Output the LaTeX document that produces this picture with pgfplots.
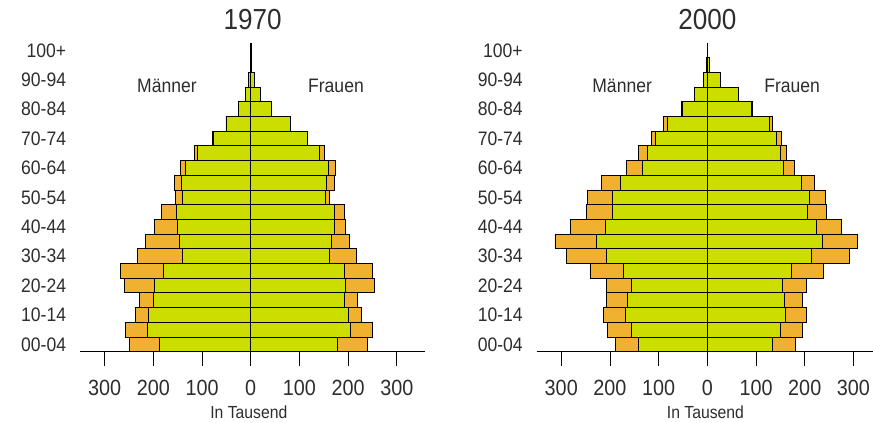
\documentclass[border=0pt]{standalone}
\usepackage{pgfplots}
\pgfplotsset{compat=1.18}
\usepackage{pgfplotstable}
\usepackage{fontspec}
\setmainfont[FakeStretch=0.9]{Liberation Sans}
\definecolor{bgreen}{RGB}{204,222,0}
\definecolor{borange}{RGB}{240,176,48}
\definecolor{txt}{RGB}{45,45,45}

% idx, men green, men total, women green, women total (in thousands)
\pgfplotstableread{
i  mg   mt   wg   wt
0  188  249  178  240
1  212  258  204  250
2  210  236  201  228
3  200  229  192  220
4  197  260  195  253
5  179  268  192  250
6  140  232  162  216
7  147  216  165  203
8  151  197  172  195
9  153  183  172  192
10 140  154  153  162
11 142  157  156  171
12 134  145  160  173
13 110  116  141  151
14 77   78   116  117
15 51   51   81   81
16 25   25   43   43
17 10   10   19   19
18 4    4    7    7
19 1    1    1.5  1.5
20 0.5  0.5  0.5  0.5
}\dataA

\pgfplotstableread{
i  mg   mt   wg   wt
0  142  188  134  180
1  155  205  151  195
2  168  214  160  203
3  164  208  158  196
4  155  207  155  203
5  173  241  172  238
6  208  290  213  292
7  227  313  236  309
8  210  281  223  275
9  195  248  206  245
10 195  246  209  242
11 178  217  194  219
12 134  166  156  179
13 123  142  149  163
14 106  114  142  153
15 82   90   127  134
16 51   54   91   92
17 27   27   64   64
18 8    8    26   26
19 1.5  1.5  5    5
20 0.5  0.5  1    1
}\dataB

\pgfplotsset{
  pyr/.style={
    x=0.487bp, y=14.7bp,
    xmin=-350, xmax=350, ymin=-0.5, ymax=20.5,
    anchor=south west,
    axis x line*=bottom, axis y line*=left,
    y axis line style={draw=none},
    x axis line style={line width=0.9bp, black, shorten >=-4bp},
    xtick={-300,-200,-100,0,100,200,300},
    xticklabels={300,200,100,0,100,200,300},
    ytick={0,2,...,20},
    yticklabels={00-04,10-14,20-24,30-34,40-44,50-54,60-64,70-74,80-84,90-94,100+},
    tick align=outside, major tick length=14bp,
    xtick style={line width=0.9bp, black},
    ytick style={draw=none},
    /pgf/number format/assume math mode=true,
    xticklabel style={font=\fontsize{22bp}{26bp}\selectfont, text=txt, yshift=-11bp},
    yticklabel style={font=\fontsize{19.5bp}{23bp}\selectfont, text=txt, inner sep=0pt, xshift=0bp},
    xbar, bar width=1, bar shift=0pt,
    clip=false,
    every axis plot/.append style={draw=black, line width=0.8bp},
  }
}

\begin{document}
\begin{tikzpicture}
\useasboundingbox (0,0) rectangle (873bp,423bp);

\begin{axis}[pyr, at={(80.3bp,71.3bp)}]
  \addplot[fill=borange] table[x expr=-\thisrow{mt}, y=i] {\dataA};
  \addplot[fill=bgreen]  table[x expr=-\thisrow{mg}, y=i] {\dataA};
  \addplot[fill=borange] table[x=wt, y=i] {\dataA};
  \addplot[fill=bgreen]  table[x=wg, y=i] {\dataA};
  \addplot[sharp plot, black, line width=0.9bp, mark=none] coordinates {(0,-0.5) (0,20.5)};
  \node[text=txt, font=\fontsize{29bp}{33bp}\selectfont] at (axis cs:4,22.1) {1970};
  \node[text=txt, font=\fontsize{19.5bp}{23bp}\selectfont] at (axis cs:-172,17.57) {Männer};
  \node[text=txt, font=\fontsize{19.5bp}{23bp}\selectfont] at (axis cs:175,17.57) {Frauen};
  \node[text=txt, font=\fontsize{17.5bp}{20bp}\selectfont] at (axis cs:-4,-4.65) {In Tausend};
\end{axis}

\begin{axis}[pyr, at={(536.9bp,71.3bp)}]
  \addplot[fill=borange] table[x expr=-\thisrow{mt}, y=i] {\dataB};
  \addplot[fill=bgreen]  table[x expr=-\thisrow{mg}, y=i] {\dataB};
  \addplot[fill=borange] table[x=wt, y=i] {\dataB};
  \addplot[fill=bgreen]  table[x=wg, y=i] {\dataB};
  \addplot[sharp plot, black, line width=0.9bp, mark=none] coordinates {(0,-0.5) (0,20.5)};
  \node[text=txt, font=\fontsize{29bp}{33bp}\selectfont] at (axis cs:0,22.1) {2000};
  \node[text=txt, font=\fontsize{19.5bp}{23bp}\selectfont] at (axis cs:-175,17.57) {Männer};
  \node[text=txt, font=\fontsize{19.5bp}{23bp}\selectfont] at (axis cs:174,17.57) {Frauen};
  \node[text=txt, font=\fontsize{17.5bp}{20bp}\selectfont] at (axis cs:-4,-4.65) {In Tausend};
\end{axis}
\end{tikzpicture}
\end{document}
